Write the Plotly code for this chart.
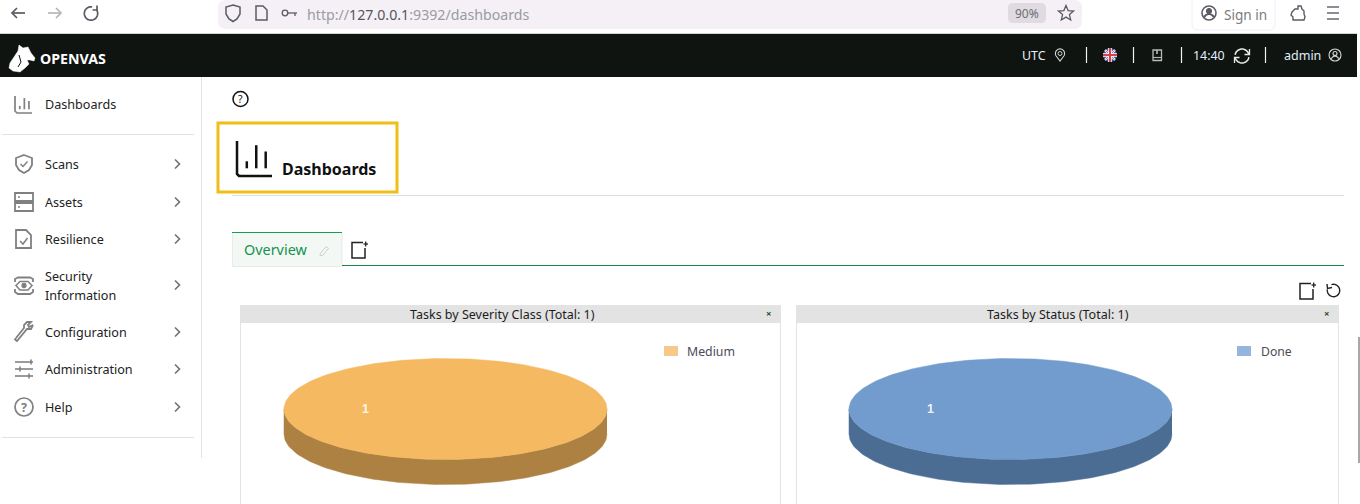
import numpy as np
import plotly.graph_objects as go

# chart data
severity_classes = ["Medium"]
severity_counts = [1]
severity_title = "Tasks by Severity Class (Total: 1)"
status_classes = ["Done"]
status_counts = [1]
status_title = "Tasks by Status (Total: 1)"

# page text
menu_items = ["Dashboards", "Scans", "Assets", "Resilience", "Security", "Information",
              "Configuration", "Administration", "Help"]
menu_rows = [104, 164, 202, 239, 276, 295, 332, 369, 407]
chevron_rows = [164, 202, 239, 285, 332, 369, 407]

FONT = "Noto Sans"
ICON = "#808080"
CHROME = "#5b5b66"
GREEN = "#12a150"

shapes = []
notes = []


def add_path(path, color=ICON, width=1.7, fill=None):
    shapes.append(dict(type="path", path=path, xref="x", yref="y",
                       line=dict(color=color, width=width),
                       fillcolor=fill if fill else "rgba(0,0,0,0)"))


def poly(points, close=False):
    path = "M" + " L".join(f"{x:.2f},{y:.2f}" for x, y in points)
    return path + " Z" if close else path


def arc(cx, cy, r, a0, a1, n=30):
    t = np.radians(np.linspace(a0, a1, n))
    return list(zip(cx + r * np.cos(t), cy + r * np.sin(t)))


def rect(x0, y0, x1, y1, fill=None, color=None, width=0):
    shapes.append(dict(type="rect", x0=x0, x1=x1, y0=y0, y1=y1, xref="x", yref="y",
                       fillcolor=fill if fill else "rgba(0,0,0,0)",
                       line=dict(color=color if color else "rgba(0,0,0,0)", width=width)))


def circle(cx, cy, r, color=ICON, width=1.7, fill=None):
    shapes.append(dict(type="circle", x0=cx - r, x1=cx + r, y0=cy - r, y1=cy + r,
                       xref="x", yref="y", line=dict(color=color, width=width),
                       fillcolor=fill if fill else "rgba(0,0,0,0)"))


def rule(x0, y0, x1, y1, color, width=1):
    add_path(poly([(x0, y0), (x1, y1)]), color, width)


def text(x, y, s, size=12.5, color="#222222", anchor="left", family=FONT):
    # annotations sit one pixel in from the given x
    if anchor == "left":
        x -= 1
    notes.append(dict(x=x, y=y, text=s, xref="x", yref="y", showarrow=False,
                      xanchor=anchor, yanchor="middle", align=anchor, borderpad=0,
                      font=dict(family=family, size=size, color=color)))


def bars_icon(x0, y0, w, h, color, width):
    add_path(poly([(x0, y0), (x0, y0 + h - 2), (x0 + 2, y0 + h), (x0 + w, y0 + h)]), color, width)
    rule(x0 + w * 0.28, y0 + h * 0.58, x0 + w * 0.28, y0 + h * 0.78, color, width)
    rule(x0 + w * 0.55, y0 + h * 0.12, x0 + w * 0.55, y0 + h * 0.78, color, width)
    rule(x0 + w * 0.82, y0 + h * 0.3, x0 + w * 0.82, y0 + h * 0.78, color, width)


def new_icon(x0, y0):
    add_path(poly([(x0 + 11, y0 + 1.5), (x0, y0 + 1.5), (x0, y0 + 17), (x0 + 13, y0 + 17),
                   (x0 + 13, y0 + 7)]), "#222222", 1.5)
    rule(x0 + 11.5, y0 + 3, x0 + 16, y0 + 3, "#222222", 1.3)
    rule(x0 + 13.7, y0 + 0.5, x0 + 13.7, y0 + 5.5, "#222222", 1.3)


def pie_traces(cx, cy, rx, ry, depth, values, top_colors, side_colors):
    # every slice is swept from its share of the total
    total = sum(values)
    start = 0.0
    traces = []
    side = np.radians(np.linspace(0, 180, 120))
    rim_x = cx + rx * np.cos(side)
    rim_y = cy + ry * np.sin(side)
    traces.append(go.Scatter(x=np.r_[rim_x, rim_x[::-1]], y=np.r_[rim_y + depth, rim_y[::-1]],
                             fill="toself", mode="lines", fillcolor=side_colors[0],
                             line=dict(color=side_colors[0], width=0.5), hoverinfo="skip"))
    for value, color in zip(values, top_colors):
        sweep = 2 * np.pi * value / total
        t = np.linspace(start, start + sweep, 240)
        traces.append(go.Scatter(x=np.r_[cx, cx + rx * np.cos(t), cx],
                                 y=np.r_[cy, cy + ry * np.sin(t), cy],
                                 fill="toself", mode="lines", fillcolor=color,
                                 line=dict(color=color, width=0.5), hoverinfo="skip"))
        mid = start + sweep / 2
        text(cx + 0.5 * rx * np.cos(mid) + 1, cy + 0.5 * ry * np.sin(mid), f"<b>{value}</b>", 12.5,
             "rgba(255,255,255,0.9)", "center", "Liberation Sans")
        start += sweep
    return traces


# browser chrome
rect(0, 33, 1357, 34, fill="#d4d4d6")
rect(1358, 337, 1360, 463, fill="#a8a8a8")
add_path("M226,0 L1074,0 Q1082,0 1082,8 L1082,21 Q1082,29 1074,29 L226,29 Q218,29 218,21 "
         "L218,8 Q218,0 226,0 Z", "rgba(0,0,0,0)", 0, "#f4f0f5")
add_path("M1013,3 L1041,3 Q1046,3 1046,8 L1046,18 Q1046,23 1041,23 L1013,23 Q1008,23 1008,18 "
         "L1008,8 Q1008,3 1013,3 Z", "rgba(0,0,0,0)", 0, "#dfdbe0")
add_path("M1192,0 L1192,24 Q1192,30 1198,30 L1269,30 Q1275,30 1275,24 L1275,0",
         "#f0eef5", 1, "#ffffff")
add_path(poly([(25, 13), (12, 13)]), CHROME, 1.7)
add_path(poly([(17, 8), (12, 13), (17, 18)]), CHROME, 1.7)
add_path(poly([(48, 13), (61, 13)]), "#b5b5bb", 1.7)
add_path(poly([(56, 8), (61, 13), (56, 18)]), "#b5b5bb", 1.7)
add_path(poly(arc(91, 13.5, 6.7, -40, 280)), CHROME, 1.7)
add_path(poly([(97, 5.5), (97, 10), (92.5, 10)]), CHROME, 1.7)
add_path(poly([(233, 5), (240, 7), (240, 14), (237, 19), (233, 21.5), (229, 19), (226, 14),
               (226, 7)], True), CHROME, 1.5)
add_path(poly([(256, 6), (263, 6), (267, 10), (267, 20), (256, 20)], True), CHROME, 1.5)
circle(285, 13, 2.8, CHROME, 1.3)
add_path(poly([(288, 13), (297, 13)]), CHROME, 1.3)
rule(295, 13, 295, 16, CHROME, 1.3)
star = [(1066 + r * np.cos(a), 13.5 + r * np.sin(a)) for r, a in
        zip([8, 3.6] * 5, np.radians(np.arange(-90, 270, 36)))]
add_path(poly(star, True), CHROME, 1.3)
circle(1209, 13, 7, CHROME, 1.6)
circle(1209, 11, 2.6, CHROME, 1, CHROME)
add_path(poly(arc(1209, 19, 5, 200, 340)), CHROME, 2)
add_path(poly([(1292, 12), (1295, 9), (1298, 9), (1298, 6), (1301, 6), (1302, 9), (1304, 11),
               (1304, 14), (1305, 17), (1304, 20), (1293, 20), (1293, 17), (1291, 15)], True),
         CHROME, 1.4)
for y in [7, 13, 19]:
    rule(1327, y, 1339, y, CHROME, 1.4)

text(307, 14, '<span style="color:#9b9ba3">http://</span><span style="color:#55555c">127.0.0.1'
              '</span><span style="color:#9b9ba3">:9392/dashboards</span>', 14.2)
text(1027, 13.5, "90%", 12, "#6d6d75", "center")
text(1224, 14, "Sign in", 13.6, "#7a7a84")

# dark header
rect(0, 34, 1357, 77, fill="#0f1410")
add_path(poly([(9, 68), (10, 63), (14, 57), (18, 51), (19, 45), (23, 48), (28, 47), (31, 53),
               (35, 58), (34, 61), (30, 60), (27, 60), (29, 64), (25, 68), (20, 72), (13, 71)],
              True), "#ffffff", 0.5, "#ffffff")
add_path(poly([(19, 55), (21, 62), (18, 67)]), "#0f1410", 1)
text(40, 58, "<b>OPENVAS</b>", 14.2, "#ffffff")
text(1022, 55, "UTC", 12.4, "#e8eef4")
circle(1060, 53.5, 2, "#d0d0d0", 1)
add_path(poly(arc(1060, 53.5, 4.6, 150, 390) + [(1060, 61)], True), "#d0d0d0", 1.1)
for x in [1086.5, 1133.5, 1181.5, 1265.5]:
    rule(x, 47, x, 63, "#f2f2f2", 1.2)
circle(1110, 55, 7, "#3d5da6", 0, "#3d5da6")
rule(1105, 50, 1115, 60, "#ffffff", 2)
rule(1105, 60, 1115, 50, "#ffffff", 2)
rule(1105.5, 50.5, 1114.5, 59.5, "#d8404a", 0.8)
rule(1105.5, 59.5, 1114.5, 50.5, "#d8404a", 0.8)
rule(1103, 55, 1117, 55, "#ffffff", 3.5)
rule(1110, 48, 1110, 62, "#ffffff", 3.5)
rule(1103, 55, 1117, 55, "#d8404a", 2)
rule(1110, 48, 1110, 62, "#d8404a", 2)
add_path(poly([(1153, 50), (1161.5, 50), (1161.5, 60.5), (1153, 60.5)], True), "#b8b8b8", 1.3)
rule(1153, 57.5, 1161.5, 57.5, "#b8b8b8", 1.1)
rule(1157, 50, 1157, 54, "#b8b8b8", 1.6)
text(1193, 55, "14:40", 12.4, "#e2eefa")
add_path(poly(arc(1242, 56, 7, -170, -10)), "#e8e8e8", 1.6)
add_path(poly(arc(1242, 56, 7, 10, 170)), "#e8e8e8", 1.6)
add_path(poly([(1249.5, 49), (1249.5, 54.5), (1244.5, 54.5)]), "#e8e8e8", 1.3)
add_path(poly([(1234.5, 63), (1234.5, 57.5), (1239.5, 57.5)]), "#e8e8e8", 1.3)
text(1284, 55, "admin", 12.5, "#e2eefa")
circle(1335, 55, 6, "#d8d8d8", 1.1)
circle(1335, 53.5, 2, "#d8d8d8", 1.1)
add_path(poly(arc(1335, 60, 3.8, 200, 340)), "#d8d8d8", 1.1)

# sidebar
rule(201.5, 77, 201.5, 458, "#e4e4e4", 1)
rule(2, 134.5, 194, 134.5, "#e2e2e2", 1)
rule(2, 437.5, 194, 437.5, "#e2e2e2", 1)
for label, y in zip(menu_items, menu_rows):
    text(45, y, label, 12.6)
for y in chevron_rows:
    add_path(poly([(175, y - 4.5), (179.5, y), (175, y + 4.5)]), "#707070", 1.6)

bars_icon(15, 96, 17, 17, ICON, 1.7)
add_path(poly([(24, 155), (32, 158), (32, 165), (29, 170), (24, 173), (19, 170), (16, 165),
               (16, 158)], True), ICON, 1.8)
add_path(poly([(20.5, 164), (23, 166.5), (27.5, 161.5)]), ICON, 1.5)
rect(15, 193, 33, 201, color=ICON, width=1.8)
rect(15, 203, 33, 211, color=ICON, width=1.8)
rule(18, 197, 20, 197, ICON, 1.3)
rule(18, 207, 20, 207, ICON, 1.3)
add_path(poly([(16, 230), (26, 230), (31, 235), (31, 248), (16, 248)], True), ICON, 1.8)
add_path(poly([(20, 241), (23, 244), (27.5, 238)]), ICON, 1.5)
add_path(poly([(15, 282), (15, 279), (18, 277.5), (30, 277.5), (33, 279), (33, 282)]), ICON, 1.8)
add_path(poly([(15, 289), (15, 292), (18, 294), (30, 294), (33, 292), (33, 289)]), ICON, 1.8)
add_path(poly([(16, 285.5), (20, 281.5), (28, 281.5), (32, 285.5), (28, 290), (20, 290)], True),
         ICON, 1.5)
circle(24, 285.5, 2, ICON, 1.3, ICON)
add_path(poly([(16, 338), (15, 339.5), (17, 341), (27, 329), (31, 329), (33, 325)]), ICON, 1.8)
add_path(poly([(16, 338), (24, 328), (24, 325), (27, 322), (31, 322), (28, 325), (29, 327),
               (33, 325)]), ICON, 1.8)
for y, mark in [(362, 31), (369, 20), (376, 29)]:
    rule(15, y, 33, y, ICON, 1.6)
    rule(mark, y - 2.5, mark, y + 2.5, ICON, 1.6)
circle(24, 407, 9, ICON, 1.7)
text(24, 407, "<b>?</b>", 12.5, ICON, "center")

# page head
circle(240.5, 99, 7.5, "#111111", 1.5)
text(240.5, 99, "?", 10.5, "#111111", "center")
rect(218, 123, 397, 192, color="#efbe18", width=3)
bars_icon(237, 141, 35, 35, "#111111", 2.5)
text(282, 169, "<b>Dashboards</b>", 16, "#111111")
rule(232, 195.5, 1344, 195.5, "#dedede", 1)

# tab strip
rect(232.5, 232.5, 342, 266.5, fill="#f4f8f5", color="#e8ece8", width=1)
rule(232, 232.5, 342, 232.5, GREEN, 1)
rule(342, 265.5, 1344, 265.5, "#158a4c", 1)
text(244, 249.5, "Overview", 14.4, "#11934f")
add_path(poly([(320, 254), (326, 246.5), (328.5, 248.5), (322.5, 255.5), (320, 255.5)], True),
         "#c8d0c8", 1)
new_icon(352, 241)
new_icon(1300, 282)
add_path(poly(arc(1333.5, 290.5, 6.2, -110, 190)), "#222222", 1.4)
add_path(poly([(1327, 284), (1327.5, 288.5), (1332, 287.5)]), "#222222", 1.4)

# dashboard panels
for x0, x1, title, mid in [(240, 781, severity_title, 502.5), (796, 1339, status_title, 1058)]:
    rule(x0 + 0.5, 323, x0 + 0.5, 504, "#e4e4e4", 1)
    rule(x1 - 0.5, 323, x1 - 0.5, 504, "#e4e4e4", 1)
    rect(x0, 305, x1, 323, fill="#e3e3e3")
    text(mid, 314, title, 12.5, "#1c1c1c", "center")
    text(x1 - 13, 313.5, "<b>×</b>", 9.5, "#1e4a2e", "center")

rect(664, 346, 678, 356, fill="#f6c98a")
text(687, 351.5, severity_classes[0], 12.3, "#4a4a55")
rect(1237, 346, 1251, 356, fill="#95b5de")
text(1261, 351.5, status_classes[0], 12.2, "#4a4a55")

traces = pie_traces(445.5, 409, 161.5, 50.5, 25, severity_counts, ["#f5b961"], ["#ad8142"])
traces += pie_traces(1010.5, 409, 161.5, 50.5, 25, status_counts, ["#719ccd"], ["#4b6d94"])

fig = go.Figure(data=traces)
fig.update_layout(width=1360, height=504, margin=dict(l=0, r=0, t=0, b=0), showlegend=False,
                  paper_bgcolor="#ffffff", plot_bgcolor="#ffffff",
                  shapes=shapes, annotations=notes,
                  xaxis=dict(range=[0, 1360], visible=False, fixedrange=True),
                  yaxis=dict(range=[504, 0], visible=False, fixedrange=True))
fig.write_html("out.html", config=dict(displayModeBar=False),
               post_script="document.body.style.margin='0';document.body.style.overflow='hidden';")
